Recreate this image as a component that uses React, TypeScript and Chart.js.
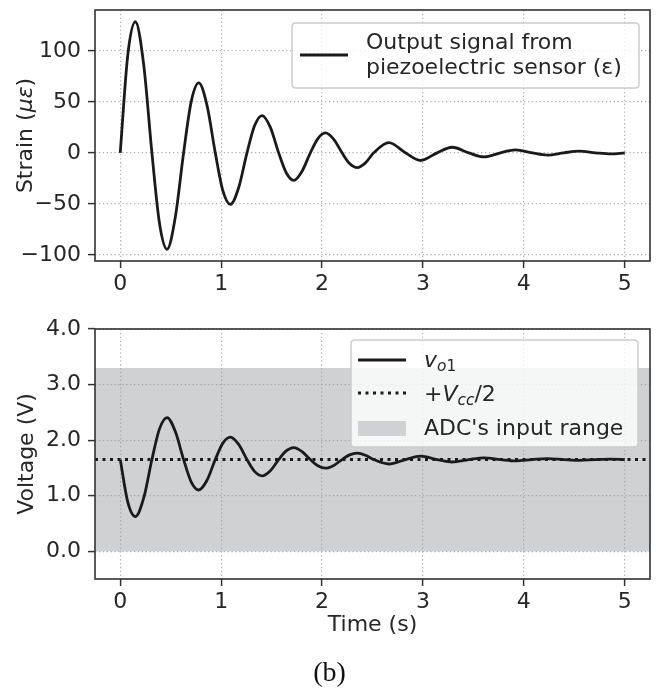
import { useEffect, useRef } from 'react';
import { Chart, registerables } from 'chart.js';

Chart.register(...registerables);

// ---------- data ----------
const TIME = [
  0, 0.075, 0.15, 0.232, 0.314, 0.389, 0.464, 0.546, 0.628, 0.703, 0.778, 0.86,
  0.942, 1.017, 1.092, 1.174, 1.256, 1.331, 1.406, 1.488, 1.57, 1.645, 1.72, 1.802,
  1.884, 1.959, 2.034, 2.116, 2.198, 2.273, 2.348, 2.43, 2.512, 2.662, 2.826, 2.976,
  3.14, 3.29, 3.454, 3.604, 3.768, 3.918, 4.082, 4.232, 4.396, 4.546, 4.71, 4.86, 5.0,
];
const STRAIN = [
  0, 96, 128.5, 87, 0, -69, -94.5, -63, 0, 50, 68.5, 46.5,
  0, -37, -50.5, -34, 0, 26.5, 36.5, 25, 0, -19.5, -27, -18,
  0, 14, 19.5, 13.3, 0, -10.5, -14.5, -9.8, 0, 10, 0, -7.5,
  0, 5.5, 0, -4, 0, 3, 0, -2.2, 0, 1.6, 0, -1.1, 0,
];
const VOLTAGE = [
  1.65, 0.882, 0.622, 0.954, 1.65, 2.202, 2.406, 2.154, 1.65, 1.25, 1.102, 1.278,
  1.65, 1.946, 2.054, 1.922, 1.65, 1.438, 1.358, 1.45, 1.65, 1.806, 1.866, 1.794,
  1.65, 1.538, 1.494, 1.544, 1.65, 1.734, 1.766, 1.728, 1.65, 1.57, 1.65, 1.71,
  1.65, 1.606, 1.65, 1.682, 1.65, 1.626, 1.65, 1.668, 1.65, 1.637, 1.65, 1.659, 1.65,
];
const X_TICKS = [0, 1, 2, 3, 4, 5];
const STRAIN_TICKS = [-100, -50, 0, 50, 100];
const VOLT_TICKS = [0, 1, 2, 3, 4];
const X_MIN = -0.25;
const X_MAX = 5.25;
const STRAIN_MIN = -106;
const STRAIN_MAX = 140;
const VOLT_MIN = -0.5;
const VOLT_MAX = 4.0;
const VCC_HALF = 1.65;
const ADC_LOW = 0;
const ADC_HIGH = 3.3;

// ---------- style ----------
const FAMILY = '"DejaVu Sans", sans-serif';
const TEXT = '#262626';
const SPINE = '#333333';
const GRID = '#b0b0b0';
const LINE = '#1a1a1a';
const BAND_RGBA = 'rgba(150,152,156,0.45)';
const BAND_SOLID = '#d0d1d3';
const FS = 22;

type Seg = { t: string; it?: boolean; sub?: boolean };

function fontOf(size: number, it?: boolean) {
  return `${it ? 'italic ' : ''}${size}px ${FAMILY}`;
}

function richWidth(ctx: CanvasRenderingContext2D, segs: Seg[], size: number) {
  let w = 0;
  for (const s of segs) {
    ctx.font = fontOf(s.sub ? size * 0.7 : size, s.it);
    w += ctx.measureText(s.t).width;
  }
  return w;
}

function drawRich(
  ctx: CanvasRenderingContext2D,
  segs: Seg[],
  x: number,
  y: number,
  size: number,
  align: 'left' | 'center'
) {
  const w = richWidth(ctx, segs, size);
  let cx = align === 'center' ? x - w / 2 : x;
  ctx.textAlign = 'left';
  ctx.textBaseline = 'alphabetic';
  ctx.fillStyle = TEXT;
  for (const s of segs) {
    const sz = s.sub ? size * 0.7 : size;
    ctx.font = fontOf(sz, s.it);
    ctx.fillText(s.t, cx, y + (s.sub ? size * 0.2 : 0));
    cx += ctx.measureText(s.t).width;
  }
}

function roundRect(ctx: CanvasRenderingContext2D, x: number, y: number, w: number, h: number, r: number) {
  ctx.beginPath();
  ctx.moveTo(x + r, y);
  ctx.lineTo(x + w - r, y);
  ctx.quadraticCurveTo(x + w, y, x + w, y + r);
  ctx.lineTo(x + w, y + h - r);
  ctx.quadraticCurveTo(x + w, y + h, x + w - r, y + h);
  ctx.lineTo(x + r, y + h);
  ctx.quadraticCurveTo(x, y + h, x, y + h - r);
  ctx.lineTo(x, y + r);
  ctx.quadraticCurveTo(x, y, x + r, y);
  ctx.closePath();
}

function legendBox(ctx: CanvasRenderingContext2D, x: number, y: number, w: number, h: number) {
  ctx.save();
  roundRect(ctx, x, y, w, h, 4);
  ctx.fillStyle = 'rgba(255,255,255,0.8)';
  ctx.fill();
  ctx.strokeStyle = '#cccccc';
  ctx.lineWidth = 1.5;
  ctx.stroke();
  ctx.restore();
}

function frame(chart: any) {
  const { ctx, chartArea: a } = chart;
  ctx.save();
  ctx.strokeStyle = SPINE;
  ctx.lineWidth = 1.6;
  ctx.strokeRect(a.left, a.top, a.right - a.left, a.bottom - a.top);
  ctx.restore();
}

function yTitle(ctx: CanvasRenderingContext2D, segs: Seg[], baseX: number, centerY: number) {
  ctx.save();
  ctx.translate(baseX, centerY);
  ctx.rotate(-Math.PI / 2);
  drawRich(ctx, segs, 0, 0, FS, 'center');
  ctx.restore();
}

const fmtStrain = (v: number) => (v < 0 ? '\u2212' + Math.abs(v) : String(v));
const fmtVolt = (v: number) => v.toFixed(1);

function baseOptions(
  yMin: number,
  yMax: number,
  yTicks: number[],
  fmt: (v: number) => string,
  padTop: number,
  xAxisH: number
) {
  const grid = {
    color: GRID,
    lineWidth: 1.2,
    drawTicks: true,
    tickLength: 7,
    tickColor: SPINE,
    tickWidth: 1.5,
    tickBorderDash: [],
  };
  const border = { display: false, dash: [1.3, 2.6] };
  const ticks = { color: TEXT, font: { family: FAMILY, size: FS }, maxRotation: 0, autoSkip: false };
  return {
    animation: false,
    responsive: false,
    maintainAspectRatio: false,
    layout: { padding: { left: 0, right: 9, top: padTop, bottom: 0 }, autoPadding: false },
    plugins: { legend: { display: false }, tooltip: { enabled: false } },
    scales: {
      x: {
        type: 'linear',
        position: 'bottom',
        min: X_MIN,
        max: X_MAX,
        afterBuildTicks: (s: any) => {
          s.ticks = X_TICKS.map((v) => ({ value: v }));
        },
        afterFit: (s: any) => {
          s.height = xAxisH;
          s.paddingLeft = 0;
          s.paddingRight = 0;
          s.paddingTop = 0;
          s.paddingBottom = 0;
        },
        grid,
        border,
        ticks: { ...ticks, padding: 3, callback: (v: number) => String(v) },
      },
      y: {
        type: 'linear',
        min: yMin,
        max: yMax,
        afterBuildTicks: (s: any) => {
          s.ticks = yTicks.map((v) => ({ value: v }));
        },
        afterFit: (s: any) => {
          s.width = 95;
          s.paddingLeft = 0;
          s.paddingRight = 0;
          s.paddingTop = 0;
          s.paddingBottom = 0;
        },
        grid,
        border,
        ticks: { ...ticks, padding: 7, callback: (v: number) => fmt(v) },
      },
    },
  };
}

export default function App() {
  const topRef = useRef<HTMLCanvasElement>(null);
  const botRef = useRef<HTMLCanvasElement>(null);

  useEffect(() => {
    const topPlugin = {
      id: 'topDecor',
      afterDraw(chart: any) {
        const ctx = chart.ctx as CanvasRenderingContext2D;
        const a = chart.chartArea;
        frame(chart);
        yTitle(ctx, [{ t: 'Strain (' }, { t: '\u03bc\u03b5', it: true }, { t: ')' }], 32, (a.top + a.bottom) / 2);
        legendBox(ctx, 292, 23, 347, 65);
        ctx.save();
        ctx.strokeStyle = LINE;
        ctx.lineWidth = 2.8;
        ctx.beginPath();
        ctx.moveTo(300, 55);
        ctx.lineTo(348, 55);
        ctx.stroke();
        ctx.restore();
        drawRich(ctx, [{ t: 'Output signal from' }], 366, 48.5, FS, 'left');
        drawRich(ctx, [{ t: 'piezoelectric sensor (\u03b5)' }], 366, 73.5, FS, 'left');
      },
    };
    const top = new Chart(topRef.current as HTMLCanvasElement, {
      type: 'line',
      data: {
        datasets: [
          {
            label: 'Output signal from piezoelectric sensor (\u03b5)',
            data: TIME.map((t, i) => ({ x: t, y: STRAIN[i] })),
            borderColor: LINE,
            borderWidth: 2.8,
            pointRadius: 0,
            fill: false,
            cubicInterpolationMode: 'monotone',
          },
        ],
      },
      options: baseOptions(STRAIN_MIN, STRAIN_MAX, STRAIN_TICKS, fmtStrain, 10, 39) as any,
      plugins: [topPlugin],
    } as any);

    const botPlugin = {
      id: 'botDecor',
      afterDraw(chart: any) {
        const ctx = chart.ctx as CanvasRenderingContext2D;
        const a = chart.chartArea;
        frame(chart);
        yTitle(ctx, [{ t: 'Voltage (V)' }], 33, (a.top + a.bottom) / 2);
        drawRich(ctx, [{ t: 'Time (s)' }], (a.left + a.right) / 2, 331, FS, 'center');
        // caption
        ctx.save();
        ctx.fillStyle = '#111111';
        ctx.font = '28px "Liberation Serif", serif';
        ctx.textAlign = 'center';
        ctx.textBaseline = 'alphabetic';
        ctx.fillText('(b)', 329.5, 381);
        ctx.restore();
        // legend
        legendBox(ctx, 351, 40, 287, 107);
        ctx.save();
        ctx.strokeStyle = LINE;
        ctx.lineWidth = 2.8;
        ctx.beginPath();
        ctx.moveTo(358, 60);
        ctx.lineTo(406, 60);
        ctx.stroke();
        ctx.setLineDash([3, 4.5]);
        ctx.beginPath();
        ctx.moveTo(358, 93);
        ctx.lineTo(406, 93);
        ctx.stroke();
        ctx.fillStyle = BAND_SOLID;
        ctx.fillRect(358, 121, 48, 15);
        ctx.restore();
        drawRich(ctx, [{ t: 'v', it: true }, { t: 'o', it: true, sub: true }, { t: '1', sub: true }], 424, 66.5, FS, 'left');
        drawRich(
          ctx,
          [{ t: '+' }, { t: 'V', it: true }, { t: 'cc', it: true, sub: true }, { t: '/2' }],
          424,
          100.5,
          FS,
          'left'
        );
        drawRich(ctx, [{ t: "ADC's input range" }], 424, 135, FS, 'left');
      },
    };
    const bot = new Chart(botRef.current as HTMLCanvasElement, {
      type: 'line',
      data: {
        datasets: [
          {
            label: 'v_o1',
            data: TIME.map((t, i) => ({ x: t, y: VOLTAGE[i] })),
            borderColor: LINE,
            borderWidth: 2.8,
            pointRadius: 0,
            fill: false,
            cubicInterpolationMode: 'monotone',
          },
          {
            label: '+Vcc/2',
            data: [
              { x: X_MIN, y: VCC_HALF },
              { x: X_MAX, y: VCC_HALF },
            ],
            borderColor: LINE,
            borderWidth: 3,
            borderDash: [3, 4.5],
            pointRadius: 0,
            fill: false,
          },
          {
            label: "ADC's input range",
            data: [
              { x: X_MIN, y: ADC_HIGH },
              { x: X_MAX, y: ADC_HIGH },
            ],
            borderColor: 'rgba(0,0,0,0)',
            borderWidth: 0,
            backgroundColor: BAND_RGBA,
            pointRadius: 0,
            fill: { value: ADC_LOW },
          },
        ],
      },
      options: baseOptions(VOLT_MIN, VOLT_MAX, VOLT_TICKS, fmtVolt, 29, 112) as any,
      plugins: [botPlugin],
    } as any);

    return () => {
      top.destroy();
      bot.destroy();
    };
  }, []);

  return (
    <div style={{ position: 'absolute', left: 0, top: 0, width: 659, height: 691, background: '#ffffff' }}>
      <canvas
        ref={topRef}
        width={659}
        height={300}
        style={{ position: 'absolute', left: 0, top: 0, width: 659, height: 300, display: 'block' }}
      />
      <canvas
        ref={botRef}
        width={659}
        height={391}
        style={{ position: 'absolute', left: 0, top: 300, width: 659, height: 391, display: 'block' }}
      />
    </div>
  );
}
